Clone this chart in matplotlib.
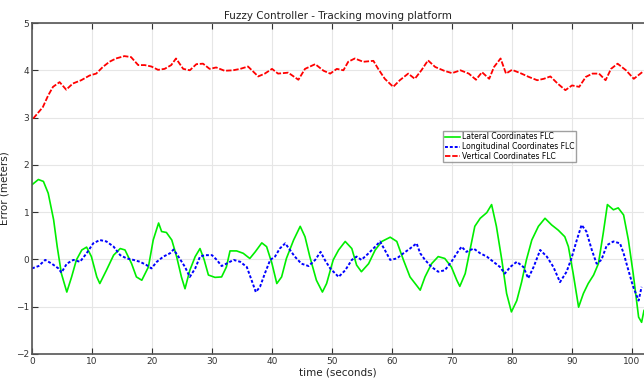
import matplotlib
matplotlib.use("Agg")
import matplotlib.pyplot as plt

# Vertical (red)
t_vert = [0.2, 1.8, 2.7, 3.5, 4.6, 5.7, 6.8, 8.2, 9.6, 10.7, 11.8, 12.9, 14.0, 15.4, 16.5, 17.7,
          18.8, 19.9, 21.0, 22.1, 23.2, 24.0, 25.2, 26.3, 27.4, 28.5, 29.6, 30.7, 32.1, 33.5,
          34.7, 36.0, 37.7, 38.8, 40.0, 41.0, 42.7, 44.4, 45.5, 47.2, 48.6, 49.7, 50.8, 51.9,
          52.7, 53.8, 55.2, 56.9, 57.7, 58.8, 60.2, 61.3, 62.7, 63.8, 64.9, 66.0, 67.2, 68.7,
          70.0, 71.4, 72.8, 74.0, 75.0, 76.2, 77.0, 78.1, 79.0, 80.0, 81.4, 82.8, 84.2, 85.3,
          86.4, 87.6, 88.9, 90.0, 91.2, 92.3, 93.4, 94.5, 95.6, 96.5, 97.6, 99.0, 100.3, 101.7]
v_vert = [2.98, 3.22, 3.47, 3.65, 3.75, 3.59, 3.72, 3.79, 3.89, 3.93, 4.07, 4.18, 4.25, 4.30, 4.28, 4.11,
          4.11, 4.08, 4.01, 4.03, 4.11, 4.25, 4.03, 4.00, 4.13, 4.14, 4.03, 4.06, 3.99, 4.00,
          4.03, 4.08, 3.87, 3.93, 4.03, 3.93, 3.95, 3.80, 4.03, 4.13, 3.99, 3.93, 4.03, 4.00,
          4.18, 4.25, 4.18, 4.20, 4.03, 3.82, 3.65, 3.79, 3.93, 3.82, 4.00, 4.21, 4.07, 3.99,
          3.94, 4.00, 3.93, 3.80, 3.96, 3.82, 4.07, 4.25, 3.93, 4.01, 3.94, 3.86, 3.79, 3.82,
          3.87, 3.72, 3.58, 3.68, 3.65, 3.86, 3.93, 3.93, 3.79, 4.03, 4.14, 4.00, 3.82, 3.96]

# Lateral (green)
t_lat = [0, 1.06, 1.9, 2.7, 3.6, 4.2, 4.9, 5.8, 6.6, 7.4, 8.3, 9.1, 9.9, 10.8, 11.3, 12.4, 13.6,
         14.7, 15.5, 16.6, 17.4, 18.3, 19.4, 20.2, 21.1, 21.6, 22.4, 23.3, 24.1, 24.9, 25.5,
         26.3, 27.2, 28.0, 28.7, 29.4, 30.5, 31.6, 32.4, 33.0, 34.1, 35.2, 36.3, 37.2, 38.3,
         39.1, 40.0, 40.8, 41.6, 42.4, 43.6, 44.7, 45.5, 46.3, 47.4, 48.4, 49.1, 50.2, 51.1,
         52.2, 53.3, 54.1, 54.9, 56.1, 57.2, 58.3, 59.7, 60.8, 61.9, 63.0, 64.1, 64.7, 65.5,
         66.6, 67.7, 68.8, 69.9, 70.8, 71.3, 72.2, 73.0, 73.8, 74.7, 75.8, 76.6, 77.4, 78.3,
         79.1, 79.9, 80.8, 81.6, 82.4, 83.3, 84.4, 85.5, 86.6, 87.7, 88.8, 89.4, 90.2, 91.1,
         91.9, 92.7, 93.6, 94.4, 95.2, 95.9, 96.9, 97.7, 98.6, 99.4, 100.2, 101.1, 101.6, 102.0]
v_lat = [1.58, 1.69, 1.65, 1.40, 0.84, 0.27, -0.30, -0.69, -0.37, -0.01, 0.20, 0.26, 0.06, -0.37, -0.51, -0.23, 0.09,
         0.23, 0.20, -0.09, -0.37, -0.44, -0.16, 0.41, 0.77, 0.59, 0.57, 0.41, 0.06, -0.37, -0.62,
         -0.23, 0.06, 0.23, -0.01, -0.33, -0.38, -0.37, -0.16, 0.18, 0.18, 0.13, 0.02, 0.16, 0.35,
         0.27, -0.09, -0.51, -0.37, 0.02, 0.41, 0.70, 0.48, 0.06, -0.44, -0.69, -0.51, -0.01, 0.20,
         0.38, 0.23, -0.12, -0.26, -0.09, 0.20, 0.38, 0.47, 0.38, -0.01, -0.37, -0.55, -0.65, -0.37,
         -0.09, 0.06, 0.02, -0.16, -0.44, -0.57, -0.30, 0.20, 0.70, 0.87, 0.99, 1.16, 0.70, -0.01,
         -0.72, -1.11, -0.87, -0.48, -0.01, 0.41, 0.70, 0.87, 0.73, 0.62, 0.48, 0.27, -0.30, -1.01,
         -0.72, -0.51, -0.33, -0.09, 0.55, 1.16, 1.05, 1.09, 0.94, 0.41, -0.30, -1.22, -1.33, -1.08]

# Longitudinal (blue)
t_lon = [0, 1.1, 2.2, 3.3, 4.4, 4.9, 5.8, 6.9, 8.0, 9.1, 10.2, 11.3, 12.4, 13.6, 14.7, 15.8, 16.9,
         18.0, 19.1, 19.9, 20.8, 21.9, 23.0, 23.6, 24.4, 25.5, 26.3, 27.2, 28.0, 28.8, 30.0,
         30.8, 31.6, 32.4, 33.6, 34.7, 35.8, 36.6, 37.3, 38.0, 38.8, 39.7, 40.5, 41.3, 42.2,
         43.0, 43.8, 44.9, 46.1, 47.2, 48.1, 48.8, 49.7, 51.1, 52.2, 53.3, 54.1, 54.9, 56.1,
         57.2, 58.0, 58.8, 59.7, 60.8, 61.9, 63.0, 64.1, 64.7, 65.5, 66.6, 67.7, 68.8, 69.9,
         70.8, 71.6, 72.4, 73.6, 74.7, 75.8, 76.9, 78.0, 78.8, 79.7, 80.8, 81.9, 82.7, 83.6,
         84.7, 85.8, 86.9, 88.0, 89.1, 89.9, 90.8, 91.6, 92.4, 93.3, 94.1, 94.9, 95.8, 96.9,
         98.0, 98.6, 99.4, 100.2, 101.1, 101.6]
v_lon = [-0.19, -0.14, -0.01, -0.09, -0.19, -0.28, -0.09, -0.01, -0.05, 0.13, 0.34, 0.41, 0.38, 0.27, 0.09, 0.02, -0.01,
         -0.05, -0.12, -0.19, -0.05, 0.06, 0.13, 0.21, 0.06, -0.16, -0.37, -0.19, 0.06, 0.09, 0.09,
         -0.01, -0.14, -0.09, -0.01, -0.05, -0.16, -0.44, -0.69, -0.58, -0.30, -0.01, 0.06, 0.23, 0.34,
         0.20, 0.06, -0.09, -0.14, -0.01, 0.16, -0.01, -0.19, -0.37, -0.23, -0.01, 0.06, -0.01, 0.13,
         0.27, 0.38, 0.20, -0.01, 0.02, 0.13, 0.23, 0.34, 0.13, -0.01, -0.16, -0.26, -0.23, -0.05,
         0.13, 0.27, 0.16, 0.23, 0.13, 0.06, -0.05, -0.16, -0.30, -0.16, -0.05, -0.16, -0.40, -0.16,
         0.20, 0.06, -0.16, -0.48, -0.26, 0.02, 0.41, 0.73, 0.59, 0.20, -0.09, -0.01, 0.30, 0.38,
         0.34, 0.13, -0.23, -0.58, -0.87, -0.58]

labels = ["Lateral Coordinates FLC", "Longitudinal Coordinates FLC", "Vertical Coordinates FLC"]
x_ticks = [0, 10, 20, 30, 40, 50, 60, 70, 80, 90, 100]
y_ticks = [-2, -1, 0, 1, 2, 3, 4, 5]

fig = plt.figure(figsize=(6.44, 3.81), dpi=100)
ax = fig.add_axes([0.0497, 0.0709, 0.9503, 0.8687])

ax.plot(t_lat, v_lat, color="#00ee00", lw=1.2, ls="-", label=labels[0])
ax.plot(t_lon, v_lon, color="#0000ff", lw=1.4, ls=(0, (1.5, 1)), label=labels[1])
ax.plot(t_vert, v_vert, color="#ff0000", lw=1.3, ls=(0, (3, 1)), label=labels[2])

ax.set_xlim(0, 102)
ax.set_ylim(-2, 5)
ax.set_xticks(x_ticks)
ax.set_yticks(y_ticks)
ax.grid(True, color="#e6e6e6", lw=0.8)
ax.set_axisbelow(True)
ax.tick_params(axis="both", direction="in", labelsize=6.5, colors="#333333", length=4,
               top=True, right=False, pad=2)
for s in ["left", "bottom", "top"]:
    ax.spines[s].set_color("#555555")
    ax.spines[s].set_linewidth(1.2)
ax.spines["right"].set_visible(False)

ax.set_title("Fuzzy Controller - Tracking moving platform", fontsize=7.5, pad=3, color="#222222")
ax.set_xlabel("time (seconds)", fontsize=7.5, labelpad=1, color="#222222")
ax.set_ylabel("Error (meters)", fontsize=7.5, color="#222222")
ax.yaxis.set_label_coords(-0.036, 0.5)

leg = ax.legend(loc="upper left", bbox_to_anchor=(0.672, 0.674), fontsize=5.5,
                frameon=True, fancybox=False, edgecolor="#888888", handlelength=2.0,
                borderpad=0.2, labelspacing=0.1, handletextpad=0.3, borderaxespad=0)
leg.get_frame().set_linewidth(1.0)

fig.savefig("out.png", dpi=100)
